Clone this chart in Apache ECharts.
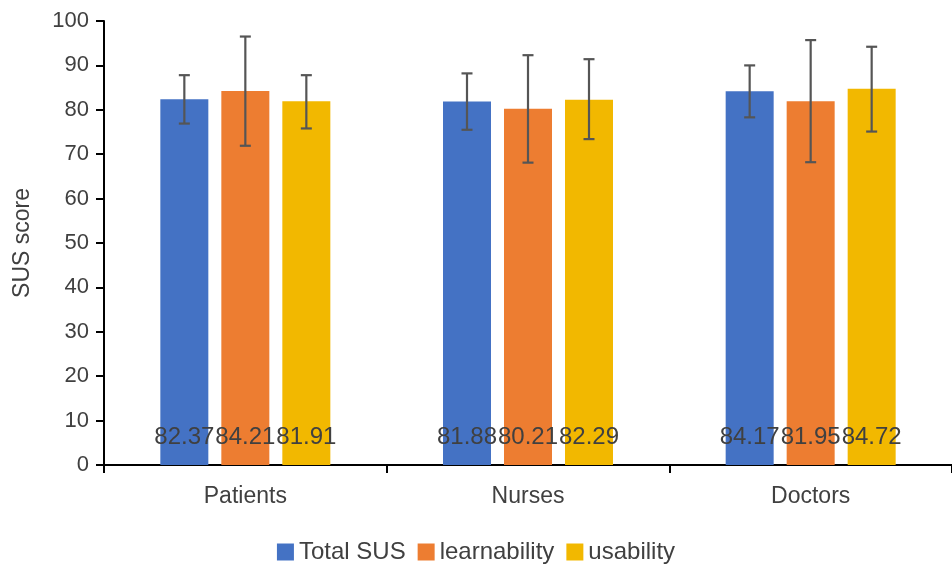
<!DOCTYPE html>
<html><head><meta charset="utf-8">
<script src="https://cdn.jsdelivr.net/npm/echarts@6/dist/echarts.min.js"></script>
<style>html,body{margin:0;padding:0;background:#fff}#c{width:952px;height:565px}</style>
</head><body><div id="c"></div>
<script>
const categories = ['Patients', 'Nurses', 'Doctors'];
const seriesNames = ['Total SUS', 'learnability', 'usability'];
const totalSUS = [82.37, 81.88, 84.17];
const learnability = [84.21, 80.21, 81.95];
const usability = [81.91, 82.29, 84.72];
// error bar low/high
const totalLow = [76.9, 75.5, 78.3];
const totalHigh = [87.8, 88.2, 90.0];
const learnLow = [71.9, 68.1, 68.2];
const learnHigh = [96.5, 92.3, 95.7];
const usabLow = [75.8, 73.4, 75.1];
const usabHigh = [87.8, 91.4, 94.2];
const yTicks = [0, 10, 20, 30, 40, 50, 60, 70, 80, 90, 100];

const colors = ['#4472C4', '#ED7D31', '#F2B800'];
const font = '"Liberation Sans", Arial, sans-serif';
const values = [totalSUS, learnability, usability];
const lows = [totalLow, learnLow, usabLow];
const highs = [totalHigh, learnHigh, usabHigh];
const barW = 48, gap = 13;

const chart = echarts.init(document.getElementById('c'));
const series = [];
values.forEach((v, i) => {
  series.push({
    name: seriesNames[i], type: 'bar', data: v, barWidth: barW, barGap: (gap / barW * 100) + '%',
    itemStyle: { color: colors[i] },
    label: { show: true, position: 'insideBottom', distance: 16, color: '#404040', fontSize: 24, fontFamily: font,
      formatter: p => p.value.toFixed(2) }
  });
});
values.forEach((v, i) => {
  const off = (i - 1) * (barW + gap);
  series.push({
    type: 'custom', z: 10, silent: true,
    data: categories.map((c, k) => [k, lows[i][k], highs[i][k]]),
    renderItem: (params, api) => {
      const lo = api.coord([api.value(0), api.value(1)]);
      const hi = api.coord([api.value(0), api.value(2)]);
      const x = lo[0] + off, cw = 5.5;
      const st = { stroke: '#555', lineWidth: 2.2 };
      return { type: 'group', children: [
        { type: 'line', shape: { x1: x, y1: lo[1], x2: x, y2: hi[1] }, style: st },
        { type: 'line', shape: { x1: x - cw, y1: lo[1], x2: x + cw, y2: lo[1] }, style: st },
        { type: 'line', shape: { x1: x - cw, y1: hi[1], x2: x + cw, y2: hi[1] }, style: st }
      ]};
    }
  });
});

chart.setOption({
  animation: false,
  grid: { left: 104, top: 21, width: 857, height: 444, containLabel: false },
  legend: {
    data: seriesNames, top: 535, left: 'center', itemWidth: 17, itemHeight: 17, itemGap: 12,
    icon: 'rect', textStyle: { fontSize: 24, color: '#404040', fontFamily: font }
  },
  xAxis: {
    type: 'category', data: categories,
    axisLine: { lineStyle: { color: '#000', width: 2 } },
    axisTick: { show: true, alignWithLabel: false, length: 8, lineStyle: { color: '#000', width: 2 } },
    axisLabel: { fontSize: 23, color: '#404040', fontFamily: font, margin: 20 }
  },
  yAxis: {
    type: 'value', min: yTicks[0], max: yTicks[yTicks.length - 1], interval: 10,
    name: 'SUS score', nameLocation: 'middle', nameGap: 70, nameRotate: 90,
    nameTextStyle: { fontSize: 23, color: '#404040', fontFamily: font },
    axisLine: { show: true, lineStyle: { color: '#000', width: 2 } },
    axisTick: { show: true, length: 8, lineStyle: { color: '#000', width: 2 } },
    splitLine: { show: false },
    axisLabel: { fontSize: 22, color: '#404040', fontFamily: font, margin: 15 }
  },
  series: series
});
</script></body></html>
